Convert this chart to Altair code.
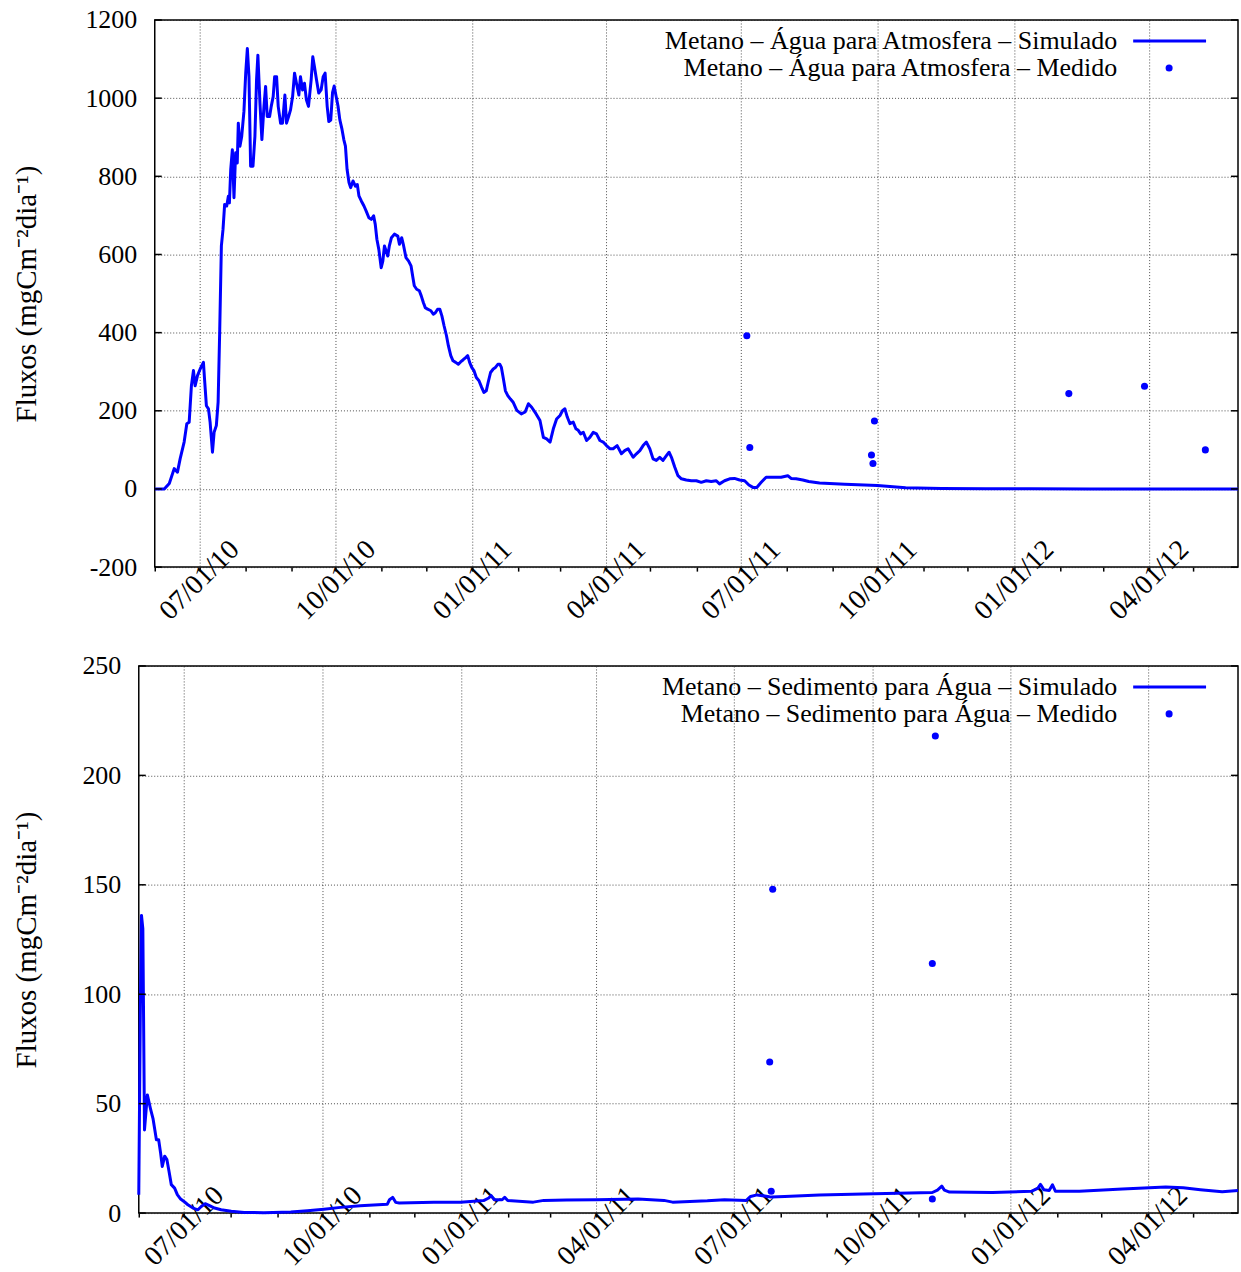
import altair as alt
import pandas as pd

FONT = "Liberation Serif"
BLUE = "#0000ff"
FS = 26      # y tick labels
XFS = 28     # x tick labels
LFS = 26     # legend text
TFS = 29     # y axis title

# ---------------- data ----------------
# day offsets relative to 2010-07-01
top_sim_day = [-29.9, -23.6, -20.2, -16.9, -14.7, -12.9, -10.2, -8.4, -6.8, -5.3, -3.9, -2.8, -1.2, 0.6, 2.8, 3.7, 4.8, 6.2, 7.3, 8.9,
               10.0, 11.5, 12.7, 13.8, 14.9, 16.0, 17.1, 18.5, 19.6, 20.3, 21.2, 22.3, 23.4, 24.5, 25.6, 26.3, 27.4, 28.6, 30.1, 31.3,
               32.4, 33.5, 34.6, 36.2, 37.5, 38.6, 39.5, 40.9, 42.2, 43.6, 44.7, 45.8, 47.4, 48.5, 49.8, 50.8, 52.1, 53.2, 54.8, 56.1,
               57.7, 58.8, 60.2, 61.5, 62.9, 64.2, 65.5, 67.1, 68.2, 69.6, 70.9, 72.2, 73.6, 75.4, 76.5, 77.6, 79.0, 80.5, 82.1, 83.5,
               84.8, 86.2, 87.3, 88.6, 89.8, 90.9, 92.4, 93.5, 94.7, 96.2, 97.4, 98.5, 99.6, 100.9, 102.0, 103.6, 105.2, 106.5, 107.6, 109.2,
               111.0, 112.5, 114.3, 115.9, 117.5, 118.6, 119.7, 121.0, 122.6, 123.7, 124.8, 125.9, 127.0, 128.1, 129.5, 131.5, 133.8, 134.9, 136.4, 137.5,
               139.3, 141.1, 142.7, 143.8, 144.9, 146.5, 148.3, 149.6, 151.0, 152.3, 153.9, 156.1, 157.7, 159.1, 160.6, 162.1, 163.5, 165.0, 166.6, 167.9,
               169.5, 171.0, 172.8, 174.6, 176.1, 177.7, 179.5, 180.9, 182.2, 183.6, 185.2, 186.7, 188.5, 190.3, 191.8, 193.4, 194.7, 196.3, 198.1, 199.6,
               201.2, 202.5, 203.6, 205.0, 206.3, 207.9, 209.7, 211.5, 214.0, 217.0, 219.6, 221.8, 224.0, 227.0, 229.6, 231.9, 234.1, 236.4, 238.6, 240.8,
               243.1, 244.9, 246.4, 248.0, 249.8, 252.0, 253.8, 255.4, 257.0, 258.8, 261.0, 263.2, 265.5, 267.7, 270.0, 272.2, 274.4, 276.7, 278.9, 281.6,
               284.5, 286.7, 289.0, 292.4, 294.6, 296.9, 299.1, 301.3, 303.6, 305.8, 308.0, 310.3, 312.5, 314.8, 316.6, 318.2, 320.4, 322.6, 324.9, 328.2,
               331.6, 335.0, 338.3, 341.7, 345.0, 348.4, 350.6, 354.0, 357.4, 360.7, 364.1, 367.5, 370.4, 373.1, 375.7, 378.7, 382.0, 385.4, 388.7, 392.1,
               396.6, 398.8, 402.2, 406.7, 410.7, 418.0, 435.0, 457.0, 476.0, 500.0, 530.0, 560.0, 600.0, 650.0, 700.0]
top_sim_val = [0, 0, 14, 52, 43, 77, 120, 167, 171, 264, 303, 264, 290, 307, 324, 273, 213, 205, 171, 94,
               145, 162, 222, 409, 622, 664, 728, 724, 749, 732, 817, 868, 745, 860, 834, 936, 877, 902, 966, 1064,
               1127, 1055, 826, 826, 902, 1047, 1110, 987, 894, 979, 1030, 953, 953, 979, 1004, 1055, 1055, 979, 936, 936,
               1008, 936, 953, 970, 1004, 1064, 1038, 1008, 1055, 1021, 1038, 996, 979, 1047, 1106, 1081, 1047, 1013, 1021, 1055,
               1064, 979, 940, 944, 1014, 1031, 1001, 980, 945, 920, 894, 877, 818, 784, 771, 788, 775, 779, 750, 737,
               724, 711, 694, 690, 699, 677, 639, 613, 566, 583, 622, 609, 596, 622, 643, 652, 647, 626, 643, 626,
               592, 583, 571, 545, 520, 511, 507, 494, 477, 464, 460, 456, 447, 451, 460, 460, 443, 417, 392, 366,
               341, 328, 324, 319, 325, 330, 336, 341, 324, 311, 302, 285, 277, 260, 247, 251, 273, 298, 307, 311,
               319, 319, 311, 281, 251, 239, 230, 222, 201, 192, 197, 218, 209, 192, 175, 132, 128, 120, 154, 179,
               188, 201, 205, 184, 167, 171, 154, 150, 141, 145, 124, 132, 145, 141, 124, 120, 111, 103, 103, 111,
               90, 98, 103, 81, 90, 98, 111, 120, 103, 77, 73, 81, 73, 85, 94, 81, 56, 34, 26, 23,
               21, 21, 17, 21, 19, 21, 13, 21, 26, 27, 23, 21, 10, 4, 4, 17, 30, 30, 30, 30,
               34, 27, 26, 23, 19, 15, 12, 9, 3, 1, 0.5, 0.3, 0.2, 0.1, 0.1]

top_med_date = ["2011-07-05", "2011-07-07", "2011-09-27", "2011-09-28", "2011-09-29", "2012-02-07", "2012-03-29", "2012-05-09"]
top_med_val = [392, 106, 87, 65, 174, 244, 263, 100]

bot_sim_day = [-30.0, -29.0, -28.2, -27.3, -26.2, -24.3, -22.0, -20.5, -18.3, -16.8, -15.5, -14.4, -12.8, -11.3, -9.9, -8.4, -6.2, -4.4, -2.2, 0.0,
               2.6, 6.0, 9.3, 11.5, 14.1, 17.0, 20.3, 24.7, 31.4, 40.0, 53.0, 71.0, 82.0, 93.0, 104.0, 117.0, 135.0, 136.5, 138.6, 140.6,
               143.0, 166.0, 183.7, 199.0, 202.4, 204.0, 206.0, 211.3, 213.0, 215.0, 232.0, 239.0, 254.0, 274.0, 301.6, 318.8, 324.5, 336.0, 347.6, 359.0,
               373.5, 376.3, 380.6, 387.7, 390.0, 399.0, 422.0, 451.0, 474.0, 497.0, 500.4, 503.3, 505.0, 508.4, 537.0, 563.0, 567.0, 568.8, 571.0, 574.6,
               576.8, 578.7, 594.6, 623.3, 652.0, 663.6, 675.0, 689.5, 700.0]
bot_sim_val = [8.4, 90, 136, 130, 38, 54, 47, 43, 33.5, 33.5, 27.4, 21.3, 26, 24.4, 19, 13, 11.4, 8.4, 6.4, 5.3,
               3.8, 2.3, 1.5, 3.0, 4.3, 3.4, 2.3, 1.5, 0.8, 0.3, 0.2, 0.5, 1.1, 1.8, 2.6, 3.4, 4.0, 6.1, 7.2, 4.9,
               4.6, 4.9, 5.0, 5.7, 6.9, 8.0, 6.1, 6.1, 7.2, 5.7, 5.0, 5.8, 6.0, 6.1, 6.4, 5.8, 5.0, 5.3, 5.6, 6.1,
               5.8, 7.6, 8.3, 7.6, 7.3, 7.6, 8.3, 8.7, 9.1, 9.4, 10.5, 12.3, 10.5, 9.6, 9.4, 10.0, 11.3, 13.1, 10.7, 10.3,
               12.9, 10.0, 10.0, 11.0, 11.9, 11.6, 10.7, 9.7, 10.3]

bot_med_date = ["2011-07-25", "2011-07-26", "2011-07-27", "2011-11-10", "2011-11-10", "2011-11-12"]
bot_med_val = [69, 10, 148, 6.4, 114, 218]

top_yticks = [-200, 0, 200, 400, 600, 800, 1000, 1200]
bot_yticks = [0, 50, 100, 150, 200, 250]

labels_top = ["Metano – Água para Atmosfera – Simulado", "Metano – Água para Atmosfera – Medido"]
labels_bot = ["Metano – Sedimento para Água – Simulado", "Metano – Sedimento para Água – Medido"]

YTITLE = "Fluxos (mgCm⁻²dia⁻¹)"

# ---------------- helpers ----------------
base = pd.Timestamp("2010-07-01")
GRID = dict(grid=True, gridColor="#222222", gridDash=[1, 2], gridWidth=1)


def to_dates(days):
    return [base + pd.Timedelta(days=d) for d in days]


month_ticks = []
y, m = 2010, 6
while (y, m) <= (2012, 5):
    month_ticks.append(alt.DateTime(year=y, month=m, date=1))
    m += 1
    if m == 13:
        y, m = y + 1, 1

xdomain = [alt.DateTime(year=2010, month=6, date=1), alt.DateTime(year=2012, month=5, date=31)]


def x_enc():
    return alt.X(
        "date:T",
        scale=alt.Scale(domain=xdomain, nice=False),
        axis=alt.Axis(
            title=None,
            values=month_ticks,
            labelExpr="month(datum.value) % 3 == 0 ? timeFormat(datum.value, '%m/%d/%y') : ''",
            labelAngle=-45,
            labelAlign="center",
            labelBaseline="middle",
            labelPadding=9,
            labelOverlap=False,
            labelFlush=False,
            labelBound=False,
            labelFont=FONT,
            labelFontSize=XFS,
            labelColor="black",
            tickSize=4,
            tickWidth=1.5,
            tickColor="black",
            domain=False,
            gridOpacity={"condition": {"test": "month(datum.value) % 3 == 0", "value": 0.8}, "value": 0},
            **GRID,
        ),
    )


def y_axis_labels(yticks, ext, tpad, offset=0, grid=False, lpad=18):
    extra = dict(gridOpacity=0.8, **GRID) if grid else dict(grid=False)
    return alt.Axis(
        title=YTITLE,
        values=yticks,
        labelExpr="'' + datum.value",
        labelFont=FONT,
        labelFontSize=FS,
        labelColor="black",
        titleFont=FONT,
        titleFontSize=TFS,
        titleFontWeight="normal",
        titleColor="black",
        tickSize=0,
        labelPadding=lpad,
        domain=False,
        minExtent=ext,
        maxExtent=ext,
        titlePadding=tpad,
        offset=offset,
        **extra,
    )


def y_axis_grid(yticks):
    return alt.Axis(
        title=None, values=yticks, labels=False, ticks=False, domain=False,
        minExtent=0, maxExtent=0, gridOpacity=0.8, **GRID,
    )


def plot_layers(sim_days, sim_vals, med_dates, med_vals, ydom, yticks, labels, W, H, yaxis):
    sim = pd.DataFrame({"date": to_dates(sim_days), "v": sim_vals})
    med = pd.DataFrame({"date": pd.to_datetime(med_dates), "v": med_vals})
    yenc = alt.Y("v:Q", scale=alt.Scale(domain=ydom, nice=False, zero=False), axis=yaxis)
    line = alt.Chart(sim).mark_line(color=BLUE, strokeWidth=3, strokeJoin="round").encode(x=x_enc(), y=yenc)
    pts = alt.Chart(med).mark_point(filled=True, size=50, color=BLUE, opacity=1).encode(x="date:T", y="v:Q")

    tickdf = pd.DataFrame({"v": yticks})
    lt = alt.Chart(tickdf).mark_rule(color="black", strokeWidth=1.5).encode(
        y="v:Q", x=alt.value(0), x2=alt.value(7))
    rt = alt.Chart(tickdf).mark_rule(color="black", strokeWidth=1.5).encode(
        y="v:Q", x=alt.value(W - 7), x2=alt.value(W))

    t1 = alt.Chart(pd.DataFrame({"t": [labels[0]]})).mark_text(
        align="right", baseline="alphabetic", font=FONT, fontSize=LFS, color="black").encode(
        x=alt.value(W - 121), y=alt.value(29), text="t:N")
    t2 = alt.Chart(pd.DataFrame({"t": [labels[1]]})).mark_text(
        align="right", baseline="alphabetic", font=FONT, fontSize=LFS, color="black").encode(
        x=alt.value(W - 121), y=alt.value(56), text="t:N")
    lsym = alt.Chart(pd.DataFrame({"a": [0]})).mark_rule(color=BLUE, strokeWidth=3).encode(
        x=alt.value(W - 105), x2=alt.value(W - 32), y=alt.value(21))
    psym = alt.Chart(pd.DataFrame({"a": [0]})).mark_point(filled=True, size=50, color=BLUE, opacity=1).encode(
        x=alt.value(W - 69), y=alt.value(48))

    return alt.layer(line, pts, lt, rt, t1, t2, lsym, psym).properties(width=W, height=H)


H = 548
# ---- top panel: a thin axis strip so its plot can start a little to the right of the lower one
top_axis = alt.Chart(pd.DataFrame({"v": top_yticks})).mark_rule(strokeOpacity=0).encode(
    y=alt.Y("v:Q", scale=alt.Scale(domain=[-200, 1200], nice=False, zero=False),
            axis=y_axis_labels(top_yticks, 72, 29, offset=-4, lpad=6)),
    x=alt.value(0), x2=alt.value(0),
).properties(width=4, height=H, view=alt.ViewBackground(strokeWidth=0, strokeOpacity=0))

top_plot = plot_layers(top_sim_day, top_sim_val, top_med_date, top_med_val, [-200, 1200], top_yticks,
                       labels_top, 1085, H, y_axis_grid(top_yticks))

top = alt.hconcat(top_axis, top_plot, spacing=0)

bottom_plot = plot_layers(bot_sim_day, bot_sim_val, bot_med_date, bot_med_val, [0, 250], bot_yticks,
                          labels_bot, 1101, H, y_axis_labels(bot_yticks, 58, 39, grid=True))

chart = alt.vconcat(top, bottom_plot, spacing=26).properties(
    padding={"left": 12, "top": 6, "right": 0, "bottom": 5},
    background="white",
).configure_view(stroke="black", strokeWidth=1.5)

chart.save("out.html", embed_options={"renderer": "svg", "actions": False})
